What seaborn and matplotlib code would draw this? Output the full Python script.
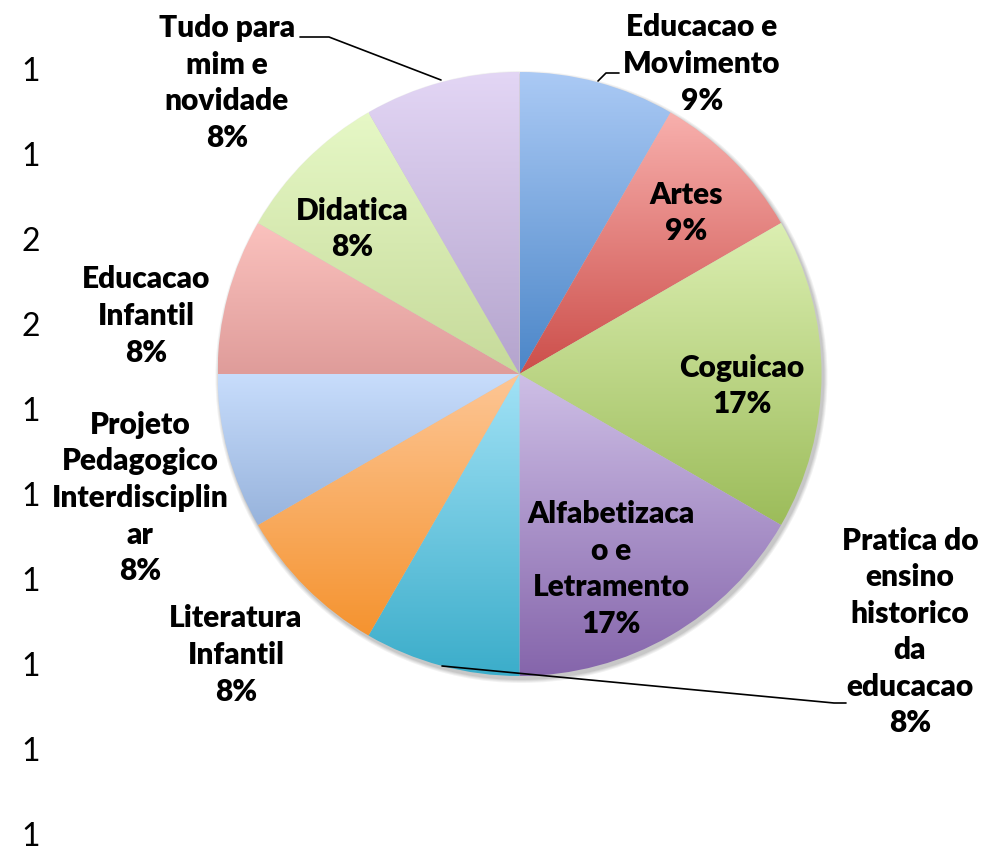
import numpy as np
import matplotlib
matplotlib.use("Agg")
import matplotlib.pyplot as plt
from matplotlib.patches import Circle
import seaborn as sns

# Course topics and how many times each was named
topics = [
    "Educacao e\nMovimento",
    "Artes",
    "Coguicao",
    "Alfabetizaca\no e\nLetramento",
    "Pratica do\nensino\nhistorico\nda\neducacao",
    "Literatura\nInfantil",
    "Projeto\nPedagogico\nInterdisciplin\nar",
    "Educacao\nInfantil",
    "Didatica",
    "Tudo para\nmim e\nnovidade",
]
counts = [1, 1, 2, 2, 1, 1, 1, 1, 1, 1]

# Gradient end colours per slice (top, bottom)
top_colors = ["#abcaf5", "#f8b0ad", "#dcefb2", "#cebfe6", "#a2e2f6",
              "#fdc695", "#c8ddfc", "#fbc2be", "#e6f8c6", "#e3d6f5"]
bottom_colors = ["#4b86c8", "#cc4e4a", "#9cbc5a", "#8565ab", "#3badca",
                 "#f5932f", "#97b3dc", "#df9c9a", "#c6da9a", "#b4a4cd"]


def rounded_percents(values):
    """Whole-number percentages that add up to 100 (largest remainder)."""
    v = np.asarray(values, dtype=float)
    raw = v / v.sum() * 100
    base = np.floor(raw).astype(int)
    rest = 100 - base.sum()
    order = np.argsort(-(raw - base), kind="stable")
    base[order[:rest]] += 1
    return base


percents = rounded_percents(counts)

sns.set_theme(style="white")
plt.rcParams["font.family"] = ["Lato", "DejaVu Sans"]

W, H = 981, 855
fig = plt.figure(figsize=(W / 100, H / 100), dpi=100)
ax = fig.add_axes([0, 0, 1, 1])
ax.set_axis_off()

cx, cy, R = 519.5, 374.0, 302.0

# soft drop shadow under the pie
for k, a in enumerate([0.05, 0.05, 0.06, 0.07]):
    ax.add_patch(Circle((cx + 2, cy + 3), R + 4 - k, facecolor="black",
                        edgecolor="none", alpha=a, zorder=0))

wedges, _ = ax.pie(counts, startangle=-90, counterclock=True,
                   center=(cx, cy), radius=R,
                   wedgeprops=dict(linewidth=0, edgecolor="none"))

for w, c0, c1 in zip(wedges, top_colors, bottom_colors):
    verts = w.get_patch_transform().transform(w.get_path().vertices)
    x0, y0 = verts.min(axis=0)
    x1, y1 = verts.max(axis=0)
    ramp = np.array(sns.blend_palette([c0, c1], n_colors=256))[:, None, :3]
    w.set_facecolor("none")
    w.set_zorder(2)
    im = ax.imshow(ramp, extent=(x0, x1, y1, y0), origin="upper",
                   aspect="auto", interpolation="bilinear", zorder=1)
    im.set_clip_path(w)

# slice labels
label_pos = [(702, 64), (686, 213), (742, 386), (611, 569), (910, 632),
             (236, 655), (140, 498), (146, 316), (352, 229), (227, 83)]
for name, pct, (lx, ly) in zip(topics, percents, label_pos):
    ax.text(lx, ly, f"{name}\n{pct}%", ha="center", va="center",
            fontsize=21.5, fontweight=800, color="black",
            linespacing=1.37, zorder=5)

# leader lines for labels set away from their slices
leaders = [
    [(598, 81), (606, 73), (619, 73)],
    [(441, 80), (329, 37), (300, 37)],
    [(442, 666), (834, 703), (846, 703)],
]
for pts in leaders:
    xs, ys = zip(*pts)
    ax.plot(xs, ys, color="black", linewidth=1.2, zorder=4)

# source values down the left side
for i, c in enumerate(counts):
    ax.text(31, 72 + 85 * i, str(c), ha="center", va="center",
            fontsize=23, color="black", zorder=5)

ax.set_xlim(0, W)
ax.set_ylim(H, 0)
ax.set_aspect("equal")
fig.savefig("out.png", dpi=100, facecolor="white")
